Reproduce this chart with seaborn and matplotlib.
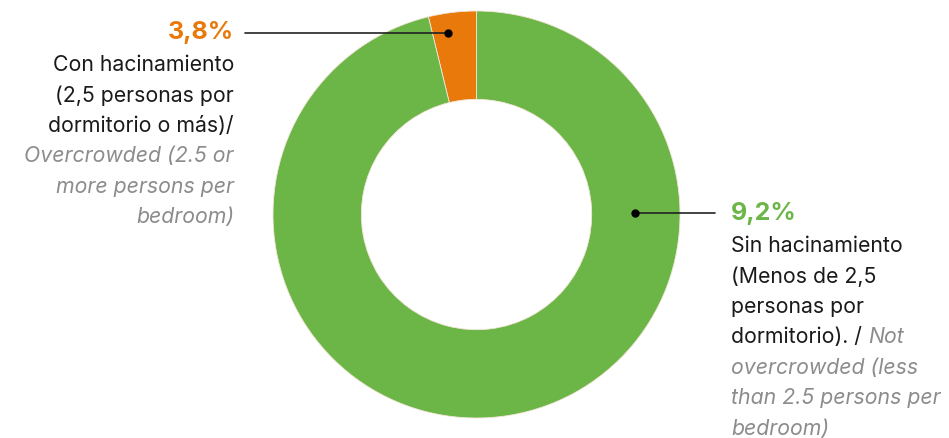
import matplotlib
matplotlib.use("Agg")
import matplotlib.pyplot as plt
import seaborn as sns

# ---- data ----
categories = ["Con hacinamiento", "Sin hacinamiento"]
shares = [3.8, 96.2]
value_labels = ["3,8%", "9,2%"]
colors = ["#E8790A", "#6CB547"]

left_lines_es = ["Con hacinamiento", "(2,5 personas por", "dormitorio o más)/"]
left_lines_en = ["Overcrowded (2.5 or", "more persons per", "bedroom)"]
right_lines_es = ["Sin hacinamiento", "(Menos de 2,5", "personas por", "dormitorio). / "]
right_lines_en_first = "Not"
right_lines_en = ["overcrowded (less", "than 2.5 persons per", "bedroom)"]

sns.set_theme(style="white")
plt.rcParams["font.family"] = ["Inter", "DejaVu Sans"]

W, H = 949, 439
fig = plt.figure(figsize=(W / 100, H / 100), dpi=100)
fig.patch.set_facecolor("white")

# overlay axes in pixel coordinates
ax = fig.add_axes([0, 0, 1, 1])
ax.set_xlim(0, W)
ax.set_ylim(H, 0)
ax.axis("off")

# donut axes
cx, cy, R = 476.5, 215.5, 203.5
pax = fig.add_axes([(cx - R) / W, (H - cy - R) / H, 2 * R / W, 2 * R / H])
pax.pie(shares, colors=colors, startangle=90, counterclock=True, radius=1,
        wedgeprops=dict(width=0.434, edgecolor="#f3e6d8", linewidth=0.6))
pax.set_xlim(-1, 1)
pax.set_ylim(-1, 1)
pax.axis("off")
ax.set_zorder(2)
ax.patch.set_alpha(0)

grey = "#8c8c8c"
fs = 15.3
lh = 30.5

# left annotation
ax.plot([245, 448], [34, 34], color="#222222", lw=1.2)
ax.plot([448], [34], "o", color="black", ms=5)
ax.text(234, 33, value_labels[0], color=colors[0], fontsize=18, fontweight="bold",
        ha="right", va="center")
y = 65
for s in left_lines_es:
    ax.text(234, y, s, color="#1a1a1a", fontsize=fs, ha="right", va="center")
    y += lh
for s in left_lines_en:
    ax.text(234, y, s, color=grey, fontsize=fs, style="italic", ha="right", va="center")
    y += lh

# right annotation
ax.plot([635, 715], [214, 214], color="#222222", lw=1.2)
ax.plot([635], [214], "o", color="black", ms=5)
ax.text(731, 214, value_labels[1], color=colors[1], fontsize=18, fontweight="bold",
        ha="left", va="center")
y = 246
last = None
for s in right_lines_es:
    last = ax.text(731, y, s, color="#1a1a1a", fontsize=fs, ha="left", va="center")
    y += lh
ax.annotate(right_lines_en_first, xy=(1, 0.5), xycoords=last, va="center", ha="left",
            color=grey, fontsize=fs, style="italic")
for s in right_lines_en:
    ax.text(731, y, s, color=grey, fontsize=fs, style="italic", ha="left", va="center")
    y += lh

fig.savefig("out.png", dpi=100, facecolor="white")
